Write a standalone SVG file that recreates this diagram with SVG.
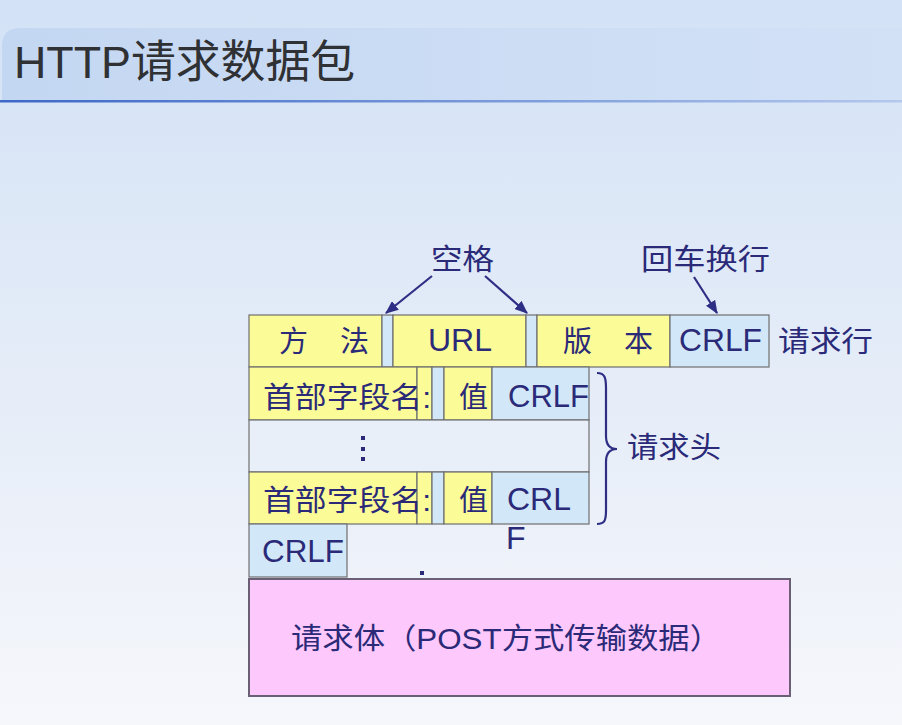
<svg xmlns="http://www.w3.org/2000/svg" width="902" height="725" viewBox="0 0 902 725">
<defs>
<linearGradient id="bg" x1="0" y1="0" x2="0" y2="1">
<stop offset="0" stop-color="#d3e2f6"/>
<stop offset="0.35" stop-color="#dfe9f7"/>
<stop offset="0.7" stop-color="#ebf0f9"/>
<stop offset="1" stop-color="#f6f7fb"/>
</linearGradient>
<linearGradient id="bar" x1="0" y1="0" x2="1" y2="0">
<stop offset="0" stop-color="#c4d7f2"/>
<stop offset="1" stop-color="#d2e1f6"/>
</linearGradient>
<linearGradient id="line" x1="0" y1="0" x2="1" y2="0">
<stop offset="0" stop-color="#3d68c6"/>
<stop offset="0.6" stop-color="#7f9fdc"/>
<stop offset="1" stop-color="#b4c8ec"/>
</linearGradient>
<marker id="ah" viewBox="0 0 12 10" refX="11" refY="5" markerWidth="6" markerHeight="5" orient="auto" markerUnits="strokeWidth">
<path d="M0,0 L12,5 L0,10 z" fill="#2e2e85"/>
</marker>
<style>
.y{fill:#fbfb97;stroke:#6f6f6f;stroke-width:1.2}
.b{fill:#d2e8f8;stroke:#6f6f6f;stroke-width:1.2}
.w{fill:#e9eff9;stroke:#6f6f6f;stroke-width:1.2}
.t{font-family:"Liberation Sans","Noto Sans CJK SC",sans-serif;font-size:29px;fill:#2a2a78}
.l{font-size:32px}
.c{text-anchor:middle}
.ar{stroke:#2e2e85;stroke-width:2.2;fill:none;marker-end:url(#ah)}
</style>
</defs>
<rect x="0" y="0" width="902" height="725" fill="url(#bg)"/>
<g id="title">
<path d="M2,101 L2,46 Q2,28 20,28 L902,28 L902,101 Z" fill="url(#bar)"/>
<rect x="0" y="100" width="902" height="2.5" fill="url(#line)"/>
<text x="14" y="78" font-family="'Liberation Sans','Noto Sans CJK SC',sans-serif" font-size="45" fill="#2f3134" textLength="341" lengthAdjust="spacingAndGlyphs">HTTP请求数据包</text>
</g>
<g id="request-line">
<rect class="y" x="249" y="315" width="133" height="52"/>
<rect class="b" x="382" y="315" width="11" height="52"/>
<rect class="y" x="393" y="315" width="133" height="52"/>
<rect class="b" x="526" y="315" width="11" height="52"/>
<rect class="y" x="537" y="315" width="133" height="52"/>
<rect class="b" x="670" y="315" width="99" height="52"/>
<text class="t" x="279" y="352">方</text>
<text class="t" x="340" y="352">法</text>
<text class="t l c" x="460" y="351">URL</text>
<text class="t" x="563" y="352">版</text>
<text class="t" x="624" y="352">本</text>
<text class="t l" x="679" y="351" textLength="83" lengthAdjust="spacingAndGlyphs">CRLF</text>
<text class="t" x="778" y="352" textLength="95" lengthAdjust="spacingAndGlyphs">请求行</text>
</g>
<g id="header-1">
<rect class="y" x="249" y="367" width="168" height="53"/>
<rect class="y" x="417" y="367" width="15" height="53"/>
<rect class="b" x="432" y="367" width="12" height="53"/>
<rect class="y" x="444" y="367" width="48" height="53"/>
<rect class="b" x="492" y="367" width="97" height="53"/>
<text class="t" x="263" y="408" textLength="168" lengthAdjust="spacingAndGlyphs">首部字段名:</text>
<text class="t" x="459" y="408">值</text>
<text class="t l" x="508" y="407" textLength="81" lengthAdjust="spacingAndGlyphs">CRLF</text>
</g>
<g id="header-dots">
<rect class="w" x="249" y="420" width="340" height="52"/>
<rect x="361" y="436" width="4" height="4" fill="#2a2a78"/>
<rect x="361" y="447" width="4" height="4" fill="#2a2a78"/>
<rect x="361" y="457" width="4" height="4" fill="#2a2a78"/>
</g>
<g id="header-n">
<rect class="y" x="249" y="472" width="168" height="52"/>
<rect class="y" x="417" y="472" width="15" height="52"/>
<rect class="b" x="432" y="472" width="12" height="52"/>
<rect class="y" x="444" y="472" width="48" height="52"/>
<rect class="b" x="492" y="472" width="97" height="52"/>
<text class="t" x="263" y="511" textLength="168" lengthAdjust="spacingAndGlyphs">首部字段名:</text>
<text class="t" x="459" y="511">值</text>
<text class="t l" x="507" y="510">CRL</text>
<text class="t l" x="506" y="549">F</text>
</g>
<g id="empty-line">
<rect class="b" x="249" y="524" width="98" height="53"/>
<text class="t l" x="262" y="562" textLength="82" lengthAdjust="spacingAndGlyphs">CRLF</text>
<rect x="420" y="571" width="4" height="4" fill="#2a2a78"/>
</g>
<g id="body">
<rect x="249" y="579" width="541" height="117" fill="#fdc8fb" stroke="#6a5f74" stroke-width="2"/>
<text class="t" x="291" y="649" textLength="430" lengthAdjust="spacingAndGlyphs">请求体（POST方式传输数据）</text>
</g>
<g id="labels">
<text class="t" x="431" y="270" textLength="63" lengthAdjust="spacingAndGlyphs">空格</text>
<text class="t" x="641" y="270" textLength="129" lengthAdjust="spacingAndGlyphs">回车换行</text>
<text class="t" x="627" y="458" textLength="94" lengthAdjust="spacingAndGlyphs">请求头</text>
</g>
<g id="connectors">
<line class="ar" x1="432" y1="276" x2="386" y2="313"/>
<line class="ar" x1="485" y1="276" x2="527" y2="313"/>
<line class="ar" x1="694" y1="277" x2="717" y2="313"/>
<path d="M597,373 C605,373 606,378 606,388 L606,436 C606,445 610,449 617,449 C610,449 606,453 606,462 L606,510 C606,520 605,524 597,524" fill="none" stroke="#2e2e85" stroke-width="2.2"/>
</g>
</svg>
